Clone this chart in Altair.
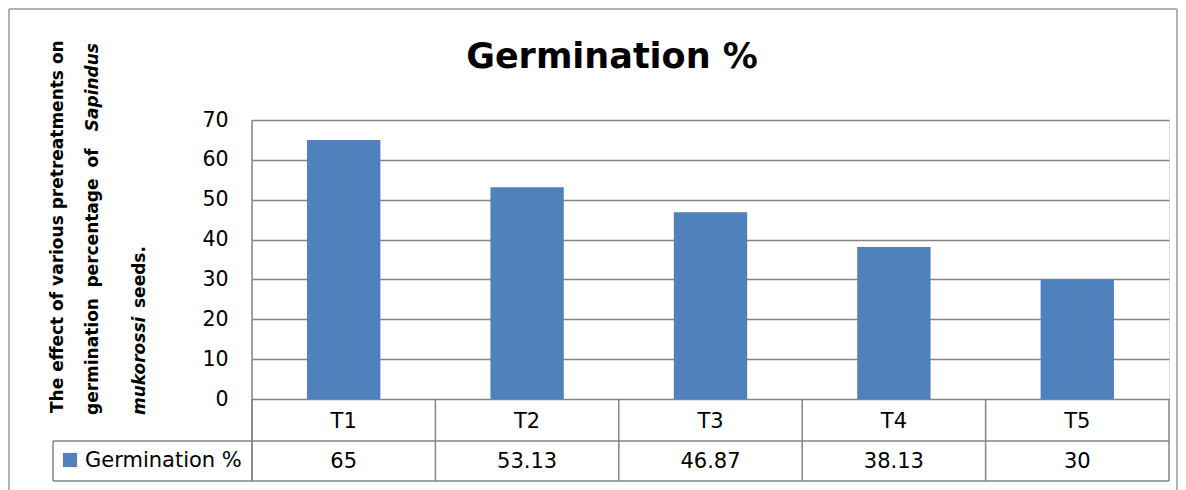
import altair as alt
import pandas as pd

categories = ["T1", "T2", "T3", "T4", "T5"]
values = [65, 53.13, 46.87, 38.13, 30]
series_name = "Germination %"
title_text = "Germination %"
ytitle_line1 = "The effect of various pretreatments on"
ytitle_line2_words = ["germination", "percentage", "of"]
ytitle_line2_italic = "Sapindus"
ytitle_line3a = "mukorossi"
ytitle_line3b = "seeds."
y_ticks = [0, 10, 20, 30, 40, 50, 60, 70]

W, H = 917, 279
PL, PT = 244, 112
FONT = "DejaVu Sans"
GRID = "#858585"
BLUE = "#4F81BD"

df = pd.DataFrame({"cat": categories, "val": values,
                   "lab": [f"{v:g}" for v in values]})
one = pd.DataFrame({"d": [0]})

xs = alt.X("cat:N", sort=categories, axis=None,
           scale=alt.Scale(paddingInner=0, paddingOuter=0))

bars = alt.Chart(df).mark_bar(color=BLUE, width=alt.RelativeBandSize(0.4)).encode(
    x=xs,
    y=alt.Y("val:Q", scale=alt.Scale(domain=[0, 70], nice=False),
            axis=alt.Axis(values=y_ticks, title=None, domain=False, ticks=False,
                          labelFont=FONT, labelFontSize=20.5, labelColor="#000",
                          labelPadding=24, gridColor=GRID, gridWidth=1.5)),
)

# table category row / value row
cat_text = alt.Chart(df).mark_text(font=FONT, fontSize=21, color="#000", baseline="alphabetic").encode(
    x=xs, y=alt.value(428 - 120), text="cat:N")
val_text = alt.Chart(df).mark_text(font=FONT, fontSize=21, color="#000", baseline="alphabetic").encode(
    x=xs, y=alt.value(468 - 120), text="lab:N")

# table vertical dividers at band starts
vdiv = alt.Chart(df).mark_rule(color=GRID, strokeWidth=1.5).encode(
    x=alt.X("cat:N", sort=categories, bandPosition=0, axis=None),
    y=alt.value(279), y2=alt.value(361))
vright = alt.Chart(one).mark_rule(color=GRID, strokeWidth=1.5).encode(
    x=alt.value(W), y=alt.value(279), y2=alt.value(361))
# left axis line extending through table
vleft = alt.Chart(one).mark_rule(color=GRID, strokeWidth=1.5).encode(
    x=alt.value(0), y=alt.value(0), y2=alt.value(361))
# horizontal table lines
h1 = alt.Chart(one).mark_rule(color=GRID, strokeWidth=1.5).encode(
    x=alt.value(-199), x2=alt.value(W), y=alt.value(321))
h2 = alt.Chart(one).mark_rule(color=GRID, strokeWidth=1.5).encode(
    x=alt.value(-199), x2=alt.value(W), y=alt.value(361))
legleft = alt.Chart(one).mark_rule(color=GRID, strokeWidth=1.5).encode(
    x=alt.value(-199), y=alt.value(321), y2=alt.value(361))

# legend inside table
leg_sq = alt.Chart(one).mark_square(color=BLUE, size=200, opacity=1).encode(
    x=alt.value(70 - 252), y=alt.value(460 - 120))
leg_txt = alt.Chart(pd.DataFrame({"t": [series_name]})).mark_text(
    font=FONT, fontSize=21, color="#000", align="left", baseline="alphabetic").encode(
    x=alt.value(85 - 252), y=alt.value(467 - 120), text="t:N")

# outer border
bl = alt.Chart(one).mark_rule(color="#9a9a9a", strokeWidth=1.5).encode(
    x=alt.value(-243), y=alt.value(-111), y2=alt.value(H + 91))
bt = alt.Chart(one).mark_rule(color="#9a9a9a", strokeWidth=1.5).encode(
    x=alt.value(-243), x2=alt.value(W + 8), y=alt.value(-111))
br = alt.Chart(one).mark_rule(color="#9a9a9a", strokeWidth=1.5).encode(
    x=alt.value(W + 8), y=alt.value(-111), y2=alt.value(H + 91))

# title
title = alt.Chart(pd.DataFrame({"t": [title_text]})).mark_text(
    font=FONT, fontSize=35, fontWeight="bold", color="#000", baseline="alphabetic").encode(
    x=alt.value(612 - 252), y=alt.value(68 - 120), text="t:N")

# rotated y title
def rot(txt, x, y, align, italic=False):
    return alt.Chart(pd.DataFrame({"t": [txt]})).mark_text(
        font=FONT, fontSize=17, fontWeight="bold",
        fontStyle="italic" if italic else "normal", color="#000",
        angle=270, align=align, baseline="middle").encode(
        x=alt.value(x - 252), y=alt.value(y - 120), text="t:N")

yt1 = rot(ytitle_line1, 58, 413, "left")
yt2a = rot(ytitle_line2_words[0], 93, 415, "left")
yt2b = rot(ytitle_line2_words[1], 93, 233, "center")
yt2c = rot(ytitle_line2_words[2], 93, 158, "center")
yt2d = rot(ytitle_line2_italic, 93, 43, "right", italic=True)
yt3a = rot(ytitle_line3a, 140, 415, "left", italic=True)
yt3b = rot(ytitle_line3b, 140, 308, "left")

chart = alt.layer(
    bars, vdiv, vright, vleft, h1, h2, legleft, cat_text, val_text,
    leg_sq, leg_txt, bl, bt, br, title, yt1, yt2a, yt2b, yt2c, yt2d, yt3a, yt3b
).properties(
    width=W, height=H,
    autosize=alt.AutoSizeParams(type="none"),
    padding={"left": PL, "top": PT, "right": 9, "bottom": 91},
).configure_view(stroke=None).configure(background="white")

chart.save("out.html", embed_options={"renderer": "svg", "actions": False})
